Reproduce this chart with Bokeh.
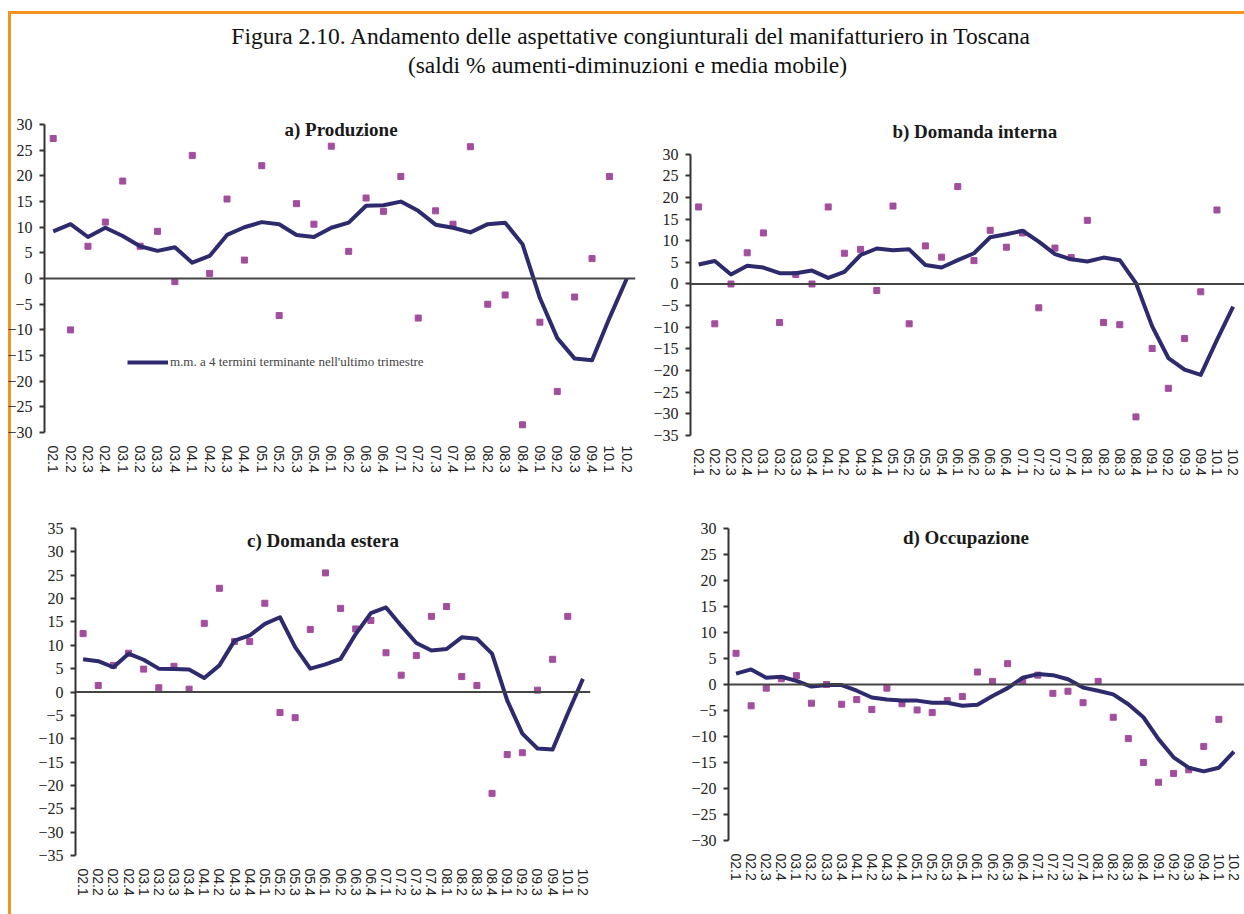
from math import nan

from bokeh.core.properties import value
from bokeh.embed import file_html
from bokeh.layouts import column, row
from bokeh.models import FixedTicker, Legend, LegendItem, Range1d, Span
from bokeh.plotting import figure
from bokeh.resources import INLINE

# Quarters (yy.q)
trimestri = [
    "02.1", "02.2", "02.3", "02.4", "03.1", "03.2", "03.3", "03.4",
    "04.1", "04.2", "04.3", "04.4", "05.1", "05.2", "05.3", "05.4",
    "06.1", "06.2", "06.3", "06.4", "07.1", "07.2", "07.3", "07.4",
    "08.1", "08.2", "08.3", "08.4", "09.1", "09.2", "09.3", "09.4",
    "10.1", "10.2",
]

# a) Produzione: saldi % and 4-term moving average
produzione_saldi = [27.3, -10, 6.3, 11, 19, 6.3, 9.2, -0.6, 24, 1, 15.5, 3.6,
                    22, -7.2, 14.6, 10.6, 25.8, 5.3, 15.7, 13.1, 19.9, -7.7, 13.2, 10.6,
                    25.7, -5, -3.2, -28.5, -8.5, -22, -3.6, 3.9, 19.9, nan]
produzione_mm = [9.2, 10.6, 8.1, 9.9, 8.3, 6.3, 5.4, 6.1, 3.1, 4.4, 8.5, 10,
                 11, 10.6, 8.5, 8.1, 9.9, 10.9, 14.2, 14.3, 15, 13.2, 10.5, 9.9,
                 9, 10.6, 10.9, 6.7, -3.8, -11.6, -15.6, -15.9, -7.7, 0]

# b) Domanda interna
interna_saldi = [17.8, -9.2, 0, 7.2, 11.8, -8.9, 2.2, 0, 17.8, 7.1, 8, -1.5,
                 18, -9.2, 8.8, 6.2, 22.5, 5.4, 12.4, 8.5, 11.8, -5.5, 8.3, 6.1,
                 14.7, -8.9, -9.4, -30.7, -14.9, -24.1, -12.6, -1.8, 17.1, nan]
interna_mm = [4.5, 5.3, 2.2, 4.2, 3.8, 2.5, 2.5, 3.1, 1.4, 2.8, 6.7, 8.2,
              7.8, 8, 4.4, 3.8, 5.5, 7.1, 10.8, 11.5, 12.3, 9.8, 6.9, 5.7,
              5.2, 6.1, 5.5, 0.2, -9.8, -17.1, -19.8, -21, -12.9, -5.2]

# c) Domanda estera
estera_saldi = [12.5, 1.4, 5.7, 8.3, 4.9, 0.9, 5.5, 0.6, 14.7, 22.2, 10.8, 10.8,
                19, -4.4, -5.5, 13.4, 25.5, 17.9, 13.5, 15.3, 8.4, 3.6, 7.8, 16.2,
                18.3, 3.3, 1.4, -21.7, -13.4, -13, 0.4, 7, 16.2, nan]
estera_mm = [7, 6.6, 5.3, 8.2, 6.9, 5, 4.9, 4.8, 3, 5.7, 11, 12.1,
             14.6, 16, 9.6, 5, 5.9, 7.1, 12.4, 16.9, 18.1, 14.2, 10.5, 8.9,
             9.2, 11.7, 11.4, 8.2, -1.8, -8.9, -12.1, -12.3, -4.6, 2.8]

# d) Occupazione
occupazione_saldi = [6, -4.1, -0.7, 1.1, 1.7, -3.6, 0, -3.8, -2.9, -4.8, -0.7, -3.7,
                     -4.9, -5.4, -3.1, -2.3, 2.4, 0.6, 4, 0.6, 1.8, -1.7, -1.3, -3.5,
                     0.6, -6.3, -10.4, -15, -18.8, -17.1, -16.4, -11.9, -6.7, nan]
occupazione_mm = [2.1, 2.9, 1.3, 1.5, 0.7, -0.4, -0.1, -0.1, -1.2, -2.5, -2.9, -3.1,
                  -3.1, -3.5, -3.5, -4.1, -3.9, -2.2, -0.7, 1.3, 2, 1.8, 1, -0.6,
                  -1.2, -1.9, -3.8, -6.3, -10.5, -14, -16, -16.7, -16, -12.9]

LEGENDA = "m.m. a 4 termini terminante nell'ultimo trimestre"

ORANGE = "#F6921E"
LINE_COLOR = "#2D2A6E"
DOT_COLOR = "#A34D9E"
SERIF = "Liberation Serif"

xs = list(range(len(trimestri)))


def panel(title, saldi, mm, y_range, axis_bounds, x_end, title_pos,
          frame_w, frame_h, left, right, top, bottom):
    p = figure(
        frame_width=frame_w, frame_height=frame_h,
        min_border_left=left, min_border_right=right,
        min_border_top=top, min_border_bottom=bottom,
        x_range=Range1d(-0.5, x_end), y_range=Range1d(*y_range),
        output_backend="svg", toolbar_location=None,
    )
    p.border_fill_color = None
    p.background_fill_color = None
    p.outline_line_color = None
    p.xgrid.visible = False
    p.ygrid.visible = False

    # value axis
    lo, hi = axis_bounds
    p.yaxis.bounds = (lo, hi)
    p.yaxis.ticker = FixedTicker(ticks=list(range(lo, hi + 1, 5)))
    p.yaxis.axis_line_color = "#333333"
    p.yaxis.axis_line_width = 2
    p.yaxis.major_tick_line_color = "#333333"
    p.yaxis.major_tick_line_width = 2
    p.yaxis.major_tick_out = 5
    p.yaxis.major_tick_in = 0
    p.yaxis.minor_tick_line_color = None
    p.yaxis.major_label_text_font = SERIF
    p.yaxis.major_label_text_font_size = "16px"
    p.yaxis.major_label_text_color = "#222222"
    p.yaxis.major_label_standoff = 7

    # quarter labels along the bottom
    p.xaxis.ticker = FixedTicker(ticks=xs)
    p.xaxis.major_label_overrides = {i: t for i, t in enumerate(trimestri)}
    p.xaxis.major_label_orientation = "vertical"
    p.xaxis.axis_line_color = None
    p.xaxis.major_tick_line_color = None
    p.xaxis.minor_tick_line_color = None
    p.xaxis.major_label_text_font = "Liberation Sans"
    p.xaxis.major_label_text_font_size = "14px"
    p.xaxis.major_label_text_color = "#222222"
    p.xaxis.major_label_standoff = 7

    p.add_layout(Span(location=0, dimension="width", line_color="#444444", line_width=2))

    p.scatter(xs, saldi, marker="square", size=6, color=DOT_COLOR)
    line = p.line(xs, mm, line_width=4, color=LINE_COLOR, line_join="round")

    p.text(x=[title_pos[0]], y=[title_pos[1]], text=[title],
           text_font=value(SERIF), text_font_style="bold", text_font_size="19px",
           text_align="center", text_baseline="middle", text_color="#1a1a1a")
    return p, line


fa, line_a = panel("a) Produzione", produzione_saldi, produzione_mm,
                   (-30, 31), (-30, 30), 33.5, (16.56, 29.0),
                   591, 313, 44, 10, 19, 58)
fb, _ = panel("b) Domanda interna", interna_saldi, interna_mm,
              (-35, 38), (-35, 30), 33.7, (17.05, 35.2),
              554, 316, 45, 0, 16, 58)
fc, _ = panel("c) Domanda estera", estera_saldi, estera_mm,
              (-35, 35), (-35, 35), 33.5, (15.84, 32.4),
              515, 327, 75, 90, 31, 66)
fd, _ = panel("d) Occupazione", occupazione_saldi, occupazione_mm,
              (-30, 30), (-30, 30), 33.7, (15.24, 28.2),
              516, 312, 48, 0, 38, 74)

legend = Legend(
    items=[LegendItem(label=LEGENDA, renderers=[line_a])],
    location=(83, 62), padding=0, margin=0, spacing=0,
    glyph_width=41, glyph_height=16, label_height=16, label_standoff=2,
    border_line_color=None, background_fill_alpha=0,
    label_text_font=SERIF, label_text_font_size="13px", label_text_color="#444444",
)
fa.add_layout(legend)

# Heading band
header = figure(width=1244, height=100, x_range=Range1d(0, 1244), y_range=Range1d(100, 0),
                min_border=0, output_backend="svg", toolbar_location=None)
header.axis.visible = False
header.xgrid.visible = False
header.ygrid.visible = False
header.outline_line_color = None
header.border_fill_color = None
header.background_fill_color = None
header.text(x=[631, 627], y=[35, 64],
            text=["Figura 2.10. Andamento delle aspettative congiunturali del manifatturiero in Toscana",
                  "(saldi % aumenti-diminuzioni e media mobile)"],
            text_font=value(SERIF), text_font_size="23.5px", text_color="#111111",
            text_align="center", text_baseline="middle")

page = column(
    header,
    row(fa, fb),
    row(fc, fd),
    styles={
        "background-image": f"linear-gradient({ORANGE}, {ORANGE}), linear-gradient({ORANGE}, {ORANGE})",
        "background-size": "3px calc(100% - 11px), calc(100% - 8px) 3px",
        "background-position": "8px 11px, 8px 11px",
        "background-repeat": "no-repeat",
    },
)

open("out.html", "w").write(file_html(page, INLINE))
